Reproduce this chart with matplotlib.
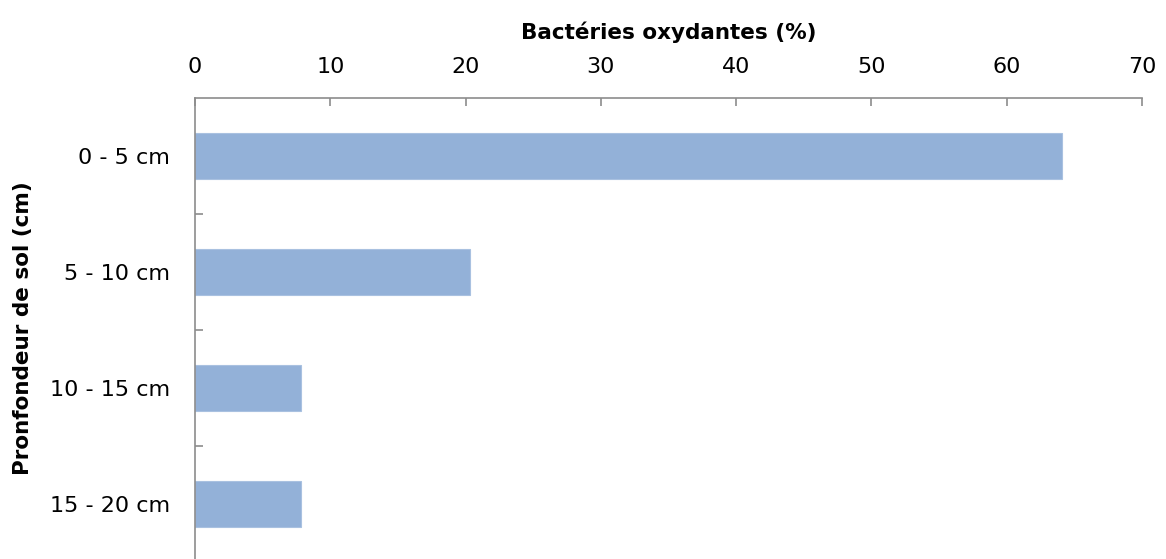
import matplotlib
matplotlib.use("Agg")
import matplotlib.pyplot as plt
import numpy as np

categories = ["0 - 5 cm", "5 - 10 cm", "10 - 15 cm", "15 - 20 cm"]
values = [64.1, 20.3, 7.8, 7.8]
xticks = [0, 10, 20, 30, 40, 50, 60, 70]

plt.rcParams['font.family'] = ['DejaVu Sans']

fig = plt.figure(figsize=(11.66, 5.59), dpi=100)
ax = fig.add_axes([195/1166, 0.0, (1142-195)/1166, 1 - 98/559])

y = np.arange(len(categories))
ax.barh(y, values, height=0.4, color="#93B1D8", edgecolor="#A9C1E0", linewidth=0.8, zorder=2)

ax.set_xlim(0, 70)
ax.set_ylim(-0.5 + 461/116, -0.5)
ax.set_xticks(xticks)
ax.set_xticklabels([str(t) for t in xticks])
ax.xaxis.tick_top()
ax.xaxis.set_label_position("top")

ax.set_yticks(y)
ax.set_yticklabels(categories)
ax.set_yticks(np.arange(0.5, len(categories) - 0.5, 1), minor=True)

grey = "#8C8C8C"
for s in ["bottom", "right"]:
    ax.spines[s].set_visible(False)
for s in ["top", "left"]:
    ax.spines[s].set_color(grey)
    ax.spines[s].set_linewidth(1.2)

ax.tick_params(axis="x", which="major", direction="in", length=6, width=1.2, color=grey,
               labelsize=16, pad=15, top=True, bottom=False)
ax.tick_params(axis="y", which="major", length=0, labelsize=16, pad=18)
ax.tick_params(axis="y", which="minor", direction="in", length=6, width=1.2, color=grey)

ax.set_xlabel("Bactéries oxydantes (%)", fontsize=15.5, fontweight="bold", labelpad=13)
ax.set_ylabel("Pronfondeur de sol (cm)", fontsize=15.5, fontweight="bold", labelpad=12)

fig.savefig("out.png", dpi=100)
